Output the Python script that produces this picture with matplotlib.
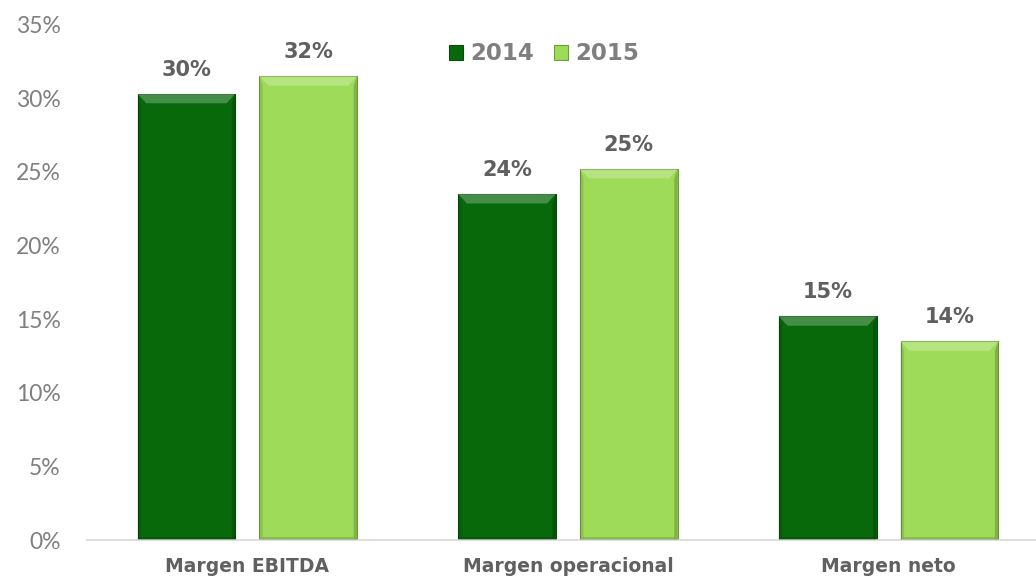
import matplotlib.pyplot as plt
from matplotlib.patches import Polygon
import numpy as np

categories = ["Margen EBITDA", "Margen operacional", "Margen neto"]
series_names = ["2014", "2015"]
vals_2014 = [30.3, 23.5, 15.2]
vals_2015 = [31.5, 25.2, 13.5]
labels_2014 = ["30%", "24%", "15%"]
labels_2015 = ["32%", "25%", "14%"]
yticks = [0, 5, 10, 15, 20, 25, 30, 35]

dark = "#07690a"
light = "#9edb58"
grey = "#7f7f7f"
lbl_grey = "#606060"


def bevel(ax, rect):
    # fake the excel bevel: light top band, darker sides
    x0, w, h = rect.get_x(), rect.get_width(), rect.get_height()
    x1 = x0 + w
    d = w * 0.09
    dy = 0.65
    top = [(x0, h), (x1, h), (x1 - d, h - dy), (x0 + d, h - dy)]
    ax.add_patch(Polygon(top, closed=True, facecolor="white", alpha=0.25, lw=0, zorder=3))
    left = [(x0, h), (x0 + d * 0.4, h - dy), (x0 + d * 0.4, 0.15), (x0, 0)]
    ax.add_patch(Polygon(left, closed=True, facecolor="black", alpha=0.10, lw=0, zorder=3))
    right = [(x1, h), (x1 - d * 0.4, h - dy), (x1 - d * 0.4, 0.15), (x1, 0)]
    ax.add_patch(Polygon(right, closed=True, facecolor="black", alpha=0.18, lw=0, zorder=3))
    bot = [(x0, 0), (x1, 0), (x1 - d * 0.4, 0.2), (x0 + d * 0.4, 0.2)]
    ax.add_patch(Polygon(bot, closed=True, facecolor="black", alpha=0.15, lw=0, zorder=3))


fig, ax = plt.subplots(figsize=(10.36, 5.82), dpi=100)
fig.subplots_adjust(left=0.084, right=1.0, bottom=0.072, top=0.958)

x = np.arange(len(categories))
w = 0.305
off = 0.19
b1 = ax.bar(x - off, vals_2014, w, color=dark, edgecolor="#0a4a0a", lw=0.8, label=series_names[0], zorder=2)
b2 = ax.bar(x + off, vals_2015, w, color=light, edgecolor="#6f9e3a", lw=0.8, label=series_names[1], zorder=2)

for r in list(b1) + list(b2):
    bevel(ax, r)

for bars, labs in ((b1, labels_2014), (b2, labels_2015)):
    for r, t in zip(bars, labs):
        ax.text(r.get_x() + r.get_width() / 2, r.get_height() + 0.95, t,
                ha="center", va="bottom", fontsize=15, fontweight="bold", color=lbl_grey)

ax.set_ylim(0, 35)
ax.set_xlim(-0.5, 2.46)
ax.set_yticks(yticks)
ax.set_yticklabels([f"{v}%" for v in yticks], fontsize=16.5, color=grey, family="Lato")
ax.set_xticks(x)
ax.set_xticklabels(categories, fontsize=13.5, fontweight="bold", color=lbl_grey)
ax.tick_params(axis="both", length=0)
ax.tick_params(axis="y", pad=19)
ax.tick_params(axis="x", pad=12)
for s in ["top", "right", "left"]:
    ax.spines[s].set_visible(False)
ax.spines["bottom"].set_color("#d9d9d9")
ax.spines["bottom"].set_linewidth(1.2)

leg = ax.legend(loc="upper left", bbox_to_anchor=(0.36, 1.005), ncol=2, frameon=False,
                handlelength=0.6, handleheight=0.6, handletextpad=0.3, columnspacing=0.9,
                prop={"size": 16.5, "weight": "bold"})
for t in leg.get_texts():
    t.set_color(grey)

fig.savefig("out.png", dpi=100)
